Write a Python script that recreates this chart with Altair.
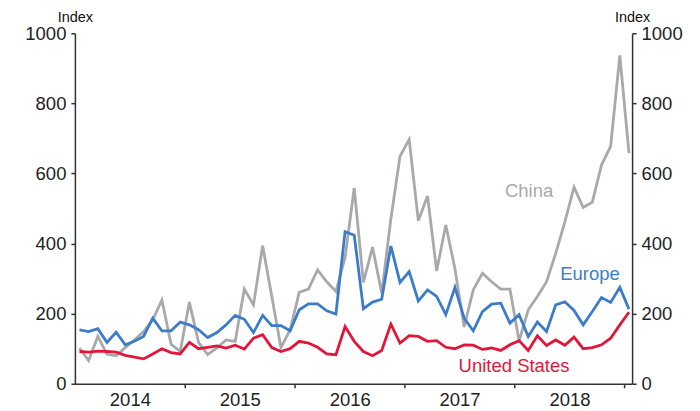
import altair as alt
import pandas as pd

# Monthly index values, Jan 2014 .. Jan 2019 (61 points)
china = [102, 66, 135, 84, 80, 103, 125, 149, 182, 239,
         113, 92, 233, 118, 83, 102, 125, 121, 270, 225,
         394, 249, 103, 154, 261, 270, 325, 291, 263, 360,
         559, 289, 390, 258, 470, 649, 697, 465, 536, 322,
         453, 328, 162, 268, 315, 291, 270, 270, 122, 211,
         249, 291, 372, 462, 561, 503, 518, 624, 677, 937,
         658]
europe = [154, 149, 157, 118, 147, 111, 121, 135, 187, 151,
          151, 176, 168, 154, 132, 146, 168, 195, 184, 146,
          195, 166, 166, 151, 211, 228, 228, 208, 199, 434,
          424, 214, 233, 241, 393, 289, 320, 236, 268, 249,
          197, 275, 187, 151, 206, 227, 230, 173, 197, 135,
          176, 149, 225, 234, 209, 168, 206, 246, 232, 275,
          213]
united_states = [92, 90, 93, 92, 90, 81, 76, 71, 85, 100,
                 89, 85, 118, 100, 104, 108, 102, 110, 99, 130,
                 140, 103, 92, 100, 121, 116, 104, 85, 83, 163,
                 121, 92, 80, 95, 170, 116, 137, 135, 121, 123,
                 104, 100, 111, 110, 98, 102, 95, 111, 123, 95,
                 137, 109, 125, 110, 133, 100, 103, 111, 130, 168,
                 204]

series_names = ["China", "Europe", "United States"]
series_colors = ["#a7a9ac", "#3d7cc9", "#e0173b"]

# month positions as decimal years (mid-month)
months = [2014 + (k + 0.5) / 12 for k in range(len(china))]

year_ticks = [2015, 2016, 2017, 2018, 2019]

# label annotations (name, x in years, y in index units)
label_names = ["China", "Europe", "United States"]
label_x = [2018.133, 2018.687, 2017.996]
label_y = [533, 296, 34]

rows = []
for name, vals in zip(series_names, [china, europe, united_states]):
    for m, v in zip(months, vals):
        rows.append({"date": m, "value": v, "series": name})
df = pd.DataFrame(rows)

labels_df = pd.DataFrame({"series": label_names, "x": label_x, "y": label_y})

FONT = "Liberation Sans"
FS = 18.5
x_scale = alt.Scale(domain=[2014.0, 2019.07], nice=False, zero=False)
y_scale = alt.Scale(domain=[0, 1000], nice=False)
color_scale = alt.Scale(domain=series_names, range=series_colors)

x_axis = alt.Axis(
    values=year_ticks,
    labelExpr="'' + (datum.value - 1)",
    labelOffset=-55,
    labelOverlap=False,
    labelBound=False,
    labelFlush=False,
    labelFontSize=FS,
    labelFont=FONT,
    labelColor="#222222",
    labelPadding=3,
    tickSize=4,
    tickColor="#333333",
    tickWidth=1.5,
    domainColor="#333333",
    domainWidth=1.5,
    grid=False,
    title=None,
)

def y_axis(orient):
    return alt.Axis(
        orient=orient,
        values=[0, 200, 400, 600, 800, 1000],
        format="d",
        labelFontSize=FS,
        labelFont=FONT,
        labelColor="#222222",
        labelPadding=5,
        tickSize=4,
        tickColor="#333333",
        tickWidth=1.5,
        domainColor="#333333",
        domainWidth=1.5,
        grid=False,
        title="Index",
        titleAngle=0,
        titleX=0,
        titleY=-12,
        titleAlign="center",
        titleBaseline="alphabetic",
        titleFont=FONT,
        titleFontSize=14.5,
        titleFontWeight="normal",
        titleColor="#111111",
    )

lines = alt.Chart(df).mark_line(strokeWidth=2.8, strokeJoin="miter").encode(
    x=alt.X("date:Q", scale=x_scale, axis=x_axis),
    y=alt.Y("value:Q", scale=y_scale, axis=y_axis("left")),
    color=alt.Color("series:N", scale=color_scale, legend=None),
    detail="series:N",
)

texts = alt.Chart(labels_df).mark_text(
    font=FONT, fontSize=FS, align="center", baseline="alphabetic"
).encode(
    x=alt.X("x:Q", scale=x_scale, axis=x_axis),
    y=alt.Y("y:Q", scale=y_scale, axis=y_axis("right")),
    text="series:N",
    color=alt.Color("series:N", scale=color_scale, legend=None),
)

chart = alt.layer(lines, texts).resolve_scale(y="independent").properties(
    width=558,
    height=351,
    autosize=alt.AutoSizeParams(type="none"),
    padding={"left": 67, "top": 25, "right": 60, "bottom": 26},
    background="white",
).configure_view(stroke=None)

chart.save("out.html", embed_options={"renderer": "svg", "actions": False})
